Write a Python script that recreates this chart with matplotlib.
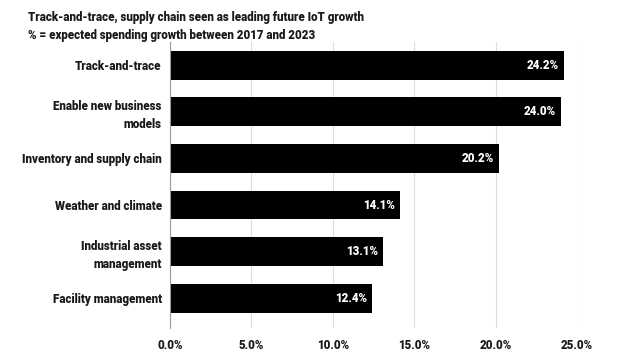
import matplotlib.pyplot as plt

categories = ['Track-and-trace', 'Enable new business\nmodels', 'Inventory and supply chain',
              'Weather and climate', 'Industrial asset\nmanagement', 'Facility management']
values = [24.2, 24.0, 20.2, 14.1, 13.1, 12.4]
xticks = [0, 5, 10, 15, 20, 25]

plt.rcParams['font.family'] = ['Roboto', 'DejaVu Sans']

fig = plt.figure(figsize=(6.25, 3.6), dpi=100)
ax = fig.add_axes([170 / 625, 1 - 328 / 360, 407 / 625, 286 / 360])

pos = list(range(len(categories)))
ax.barh(pos, values, height=0.62, color='black', zorder=3)
for p, v in zip(pos, values):
    ax.text(v - 0.3, p, f'{v:.1f}%', color='white', fontsize=8.3, fontweight='heavy',
            ha='right', va='center', zorder=4)

ax.set_yticks(pos)
ax.set_yticklabels(categories, fontsize=8.3, fontweight='heavy', color='#1a1a1a', linespacing=1.45)
ax.set_ylim(5.64, -0.5)
ax.set_xlim(0, 25)
ax.set_xticks(xticks)
ax.set_xticklabels([f'{t:.1f}%' for t in xticks], fontsize=8.3, fontweight='heavy', color='#1a1a1a')
ax.tick_params(length=0, pad=6)
ax.tick_params(axis='x', pad=8)
ax.grid(axis='x', color='#dddddd', linewidth=0.8, zorder=0)
for s in ['top', 'right', 'bottom']:
    ax.spines[s].set_visible(False)
ax.spines['left'].set_color('#999999')
ax.spines['left'].set_zorder(5)

fig.text(28 / 625, 1 - 17 / 360, 'Track-and-trace, supply chain seen as leading future IoT growth',
         fontsize=8.3, fontweight='heavy', va='center', color='#1a1a1a')
fig.text(28 / 625, 1 - 35 / 360, '% = expected spending growth between 2017 and 2023',
         fontsize=8.3, fontweight='heavy', va='center', color='#1a1a1a')

fig.savefig('out.png', dpi=100)
